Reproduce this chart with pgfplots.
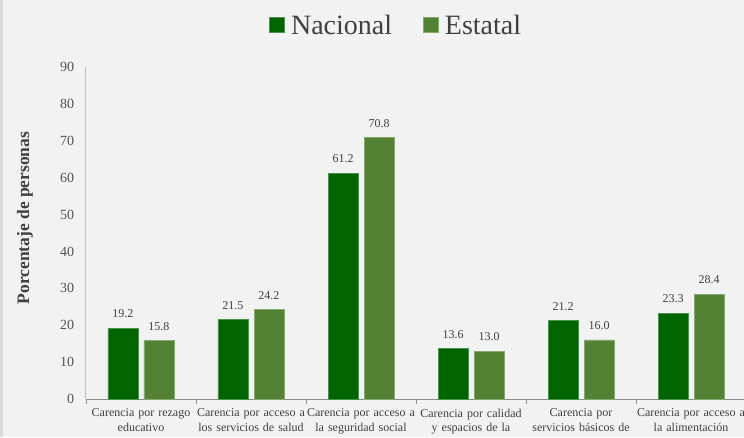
\documentclass[border=0pt]{standalone}
\usepackage{pgfplots}
\pgfplotsset{compat=1.18}
\usepackage{fontspec}
\setmainfont{Liberation Serif}

\definecolor{bg}{HTML}{F2F2F2}
\definecolor{nac}{HTML}{006400}
\definecolor{est}{HTML}{548235}
\definecolor{txt}{HTML}{404040}
\definecolor{axisgray}{HTML}{8C8C8C}

\pgfplotstableread{
x nac est
0 19.2 15.8
1 21.5 24.2
2 61.2 70.8
3 13.6 13.0
4 21.2 16.0
5 23.3 28.4
}\datos

\begin{document}
\begin{tikzpicture}
\path[use as bounding box] (-86pt,-38pt) rectangle (658pt,399pt);
\fill[bg] (-86pt,-38pt) rectangle (658pt,399pt);
\fill[black!15] (-86pt,-38pt) rectangle (-83pt,399pt);
\clip (-86pt,-38pt) rectangle (658pt,399pt);
\begin{axis}[
    scale only axis,
    width=660pt, height=332pt,
    xmin=-0.5, xmax=5.5,
    ymin=0, ymax=90,
    ytick={0,10,...,90},
    xtick={0,...,5},
    minor xtick={0.5,1.5,...,4.5,-0.5},
    major x tick style={draw=none},
    minor x tick style={draw=axisgray},
    minor tick length=5pt,
    tick align=outside,
    ytick style={draw=none},
    axis x line*=bottom,
    axis y line*=left,
    x axis line style={draw=axisgray, line width=1pt, -},
    y axis line style={draw=black!25, line width=1pt, -},
    /pgf/number format/assume math mode=true,
    yticklabel style={font=\fontsize{14}{14}\selectfont, text=txt!90, xshift=-4pt},
    xticklabels={
        {Carencia por rezago\\educativo},
        {Carencia por acceso a\\los servicios de salud},
        {Carencia por acceso a\\la seguridad social},
        {Carencia por calidad\\y espacios de la},
        {Carencia por\\servicios básicos de},
        {Carencia por acceso a\\la alimentación}},
    xticklabel style={font=\fontsize{12}{14.5}\selectfont, text=txt, text width=114pt, align=center, yshift=-2pt},
    ylabel={\textbf{Porcentaje de personas}},
    ylabel style={at={(axis description cs:-0.0924,0.545)}, anchor=center, font=\fontsize{17.5}{18}\selectfont, text=txt},
    ybar,
    bar width=30pt,
    clip=false,
    nodes near coords,
    every node near coord/.append style={font=\fontsize{12}{12}\selectfont, text=txt, anchor=south, yshift=6.5pt,
        /pgf/number format/.cd, fixed, fixed zerofill, precision=1, assume math mode=true},
    legend columns=2,
    legend style={at={(axis description cs:0.47,1.125)}, anchor=center, draw=none, fill=none,
        font=\fontsize{28}{28}\selectfont, text=txt,
        /tikz/every even column/.append style={column sep=29pt}},
    legend image code/.code={\fill[#1] (0pt,-7pt) rectangle (15pt,8pt); \path (19pt,0pt);},
]
\addplot[fill=nac, draw=nac!70!white, line width=0.8pt, bar shift=-18pt] table[x=x, y=nac] {\datos};
\addplot[fill=est, draw=est!70!white, line width=0.8pt, bar shift=18pt] table[x=x, y=est] {\datos};
\legend{Nacional, Estatal}
\end{axis}
\end{tikzpicture}
\end{document}
